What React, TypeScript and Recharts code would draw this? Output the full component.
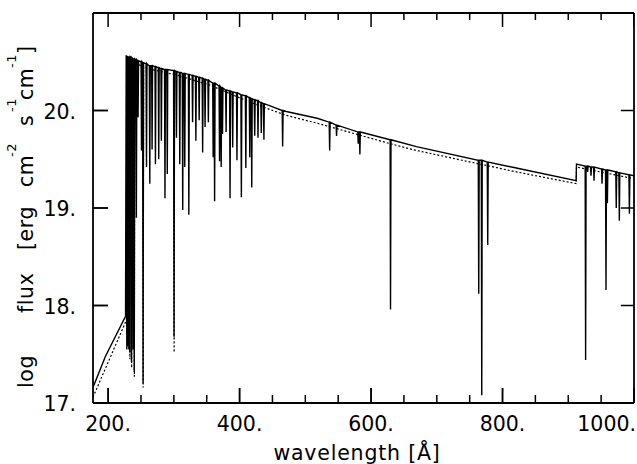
import { LineChart, Line, XAxis, YAxis } from "recharts";

const FONT = "'DejaVu Sans', sans-serif";

// axis ticks
const X_MAJOR = [200, 400, 600, 800, 1000];
const X_MINOR = [250, 300, 350, 450, 500, 550, 650, 700, 750, 850, 900, 950];
const X_LABELS: Record<number, string> = { 200: "200.", 400: "400.", 600: "600.", 800: "800.", 1000: "1000." };
const Y_TICKS = [17, 18, 19, 20, 21];
const Y_LABELS: Record<number, string> = { 17: "17.", 18: "18.", 19: "19.", 20: "20." };
const Y_TICKS_SIDE = [18, 19, 20];

const X_DOMAIN = [177, 1000];
const Y_DOMAIN = [17, 21];

// solid model: continuum knots [wavelength, log flux]
const solidContinuum: [number, number][] = [
  [177, 17.16], [196, 17.48], [226.5, 17.89], [227.5, 20.56], [260, 20.47], [311, 20.39],
  [355, 20.3], [380, 20.21], [400, 20.17], [430, 20.09], [471, 19.99], [518, 19.92],
  [629, 19.7], [669, 19.63], [766, 19.49], [821, 19.41], [912, 19.28], [912.5, 19.45],
  [1000, 19.33],
];

// solid model: absorption lines [centre, top, bottom]
const solidLines: [number, number, number][] = [
  [228.4, 20.56, 17.55], [230.0, 20.55, 17.58], [231.5, 20.55, 17.55], [233.0, 20.55, 17.52],
  [235.6, 20.54, 17.42], [238.0, 20.53, 17.55], [239.8, 20.53, 17.32], [243.0, 20.52, 18.9],
  [245.6, 20.51, 19.93], [250.8, 20.5, 19.59], [253.2, 20.49, 17.2], [258.4, 20.48, 19.42],
  [263.4, 20.46, 19.25], [266.9, 20.46, 19.6], [272.0, 20.45, 19.45], [277.0, 20.44, 19.5],
  [281.0, 20.43, 19.69], [286.5, 20.42, 19.1], [290.0, 20.42, 19.35], [300.3, 20.41, 17.68],
  [304.0, 20.4, 19.72], [309.0, 20.39, 19.45], [313.5, 20.38, 18.98], [316.6, 20.38, 19.42],
  [322.8, 20.37, 18.93], [328.5, 20.36, 19.88], [333.5, 20.35, 19.69], [338.5, 20.34, 19.9],
  [343.8, 20.33, 19.57], [347.5, 20.32, 19.83], [352.5, 20.31, 19.88], [359.8, 20.28, 19.52],
  [362.0, 20.28, 19.07], [369.5, 20.25, 19.48], [372.0, 20.24, 19.42], [374.0, 20.23, 19.76],
  [379.5, 20.21, 19.78], [385.5, 20.2, 19.1], [389.5, 20.19, 19.62], [396.0, 20.18, 19.49],
  [402.7, 20.16, 19.11], [409.5, 20.15, 19.41], [415.5, 20.13, 19.52], [418.5, 20.12, 19.21],
  [423.0, 20.11, 19.74], [428.0, 20.1, 19.72], [433.0, 20.08, 19.77], [437.0, 20.07, 19.7],
  [465.5, 20.0, 19.63], [537.0, 19.88, 19.59], [547.5, 19.85, 19.74], [580.5, 19.78, 19.66],
  [583.0, 19.78, 19.55], [629.6, 19.7, 17.96], [763.8, 19.49, 18.12], [768.4, 19.49, 17.08],
  [777.5, 19.47, 18.62], [926.4, 19.43, 17.44], [929.5, 19.43, 19.37], [934.6, 19.42, 19.33],
  [939.2, 19.42, 19.28], [951.4, 19.4, 19.25], [957.4, 19.39, 18.16], [959.5, 19.39, 19.05],
  [973.0, 19.37, 19.0], [977.7, 19.36, 18.87], [993.0, 19.34, 18.94],
];

// dotted model
const dottedContinuum: [number, number][] = [
  [177, 17.06], [227.8, 17.85], [228.1, 20.52], [260, 20.43], [311, 20.35], [355, 20.26],
  [400, 20.13], [430, 20.05], [471, 19.95], [518, 19.87], [629, 19.66], [669, 19.59],
  [766, 19.45], [821, 19.37], [912, 19.25], [912.5, 19.42], [1000, 19.3],
];
const dottedLines: [number, number, number][] = [
  [233.2, 20.51, 17.45], [235.8, 20.5, 17.36], [239.9, 20.49, 17.27], [253.3, 20.45, 17.16],
  [300.4, 20.37, 17.52],
];

const HALF = 0.7;

function buildSeries(cont: [number, number][], lines: [number, number, number][]) {
  const pts = cont.map(([x, y]) => ({ x, y }));
  lines.forEach(([c, top, bottom]) => {
    pts.push({ x: c - HALF, y: top }, { x: c, y: bottom }, { x: c + HALF, y: top });
  });
  return pts.sort((a, b) => a.x - b.x);
}

const solidData = buildSeries(solidContinuum, solidLines);
const dottedData = buildSeries(dottedContinuum, dottedLines);

// one small series per tick mark (lengths in data units), so each is a plain two-point line
type Pt = { x: number; y: number };
function buildTickMarks(): Pt[][] {
  const [x0, x1] = X_DOMAIN;
  const [y0, y1] = Y_DOMAIN;
  const marks: Pt[][] = [];
  [...X_MAJOR, ...X_MINOR].forEach((v) => {
    const major = X_MAJOR.includes(v);
    marks.push([{ x: v, y: y0 }, { x: v + 0.01, y: y0 + (major ? 0.154 : 0.082) }]);
    marks.push([{ x: v, y: y1 }, { x: v + 0.01, y: y1 - (major ? 0.144 : 0.072) }]);
  });
  Y_TICKS_SIDE.forEach((v) => {
    marks.push([{ x: x0, y: v }, { x: x0 + 23, y: v + 0.0001 }]);
    marks.push([{ x: x1 - 20, y: v }, { x: x1, y: v + 0.0001 }]);
  });
  return marks;
}
const tickMarks = buildTickMarks();

const renderBottomLabel = (props: any) => {
  const { x, y, payload } = props;
  const v = payload.value;
  const last = v === 1000;
  return (
    <text key={`b-${v}`} x={last ? x + 2 : x} y={y + 15 + 28} textAnchor={last ? "end" : "middle"}
      fontFamily={FONT} fontSize={20.5} fill="#000">
      {X_LABELS[v]}
    </text>
  );
};

const renderLeftLabel = (props: any) => {
  const { x, y, payload } = props;
  const v = payload.value;
  return (
    <text key={`l-${v}`} x={x - 15 - 17} y={y + 8} textAnchor="end" fontFamily={FONT} fontSize={20.5} fill="#000">
      {Y_LABELS[v] ?? ""}
    </text>
  );
};

function XTitle() {
  return (
    <text x={357} y={460} textAnchor="middle" fontFamily={FONT} fontSize={20.5} letterSpacing={0.8} fill="#000">
      wavelength [Å]
    </text>
  );
}

function YTitle() {
  return (
    <text transform="translate(33,0) rotate(-90)" fontFamily={FONT} fontSize={20.5} letterSpacing={0.6} fill="#000">
      <tspan x={-388} y={0}>log</tspan>
      <tspan x={-313} y={0}>flux</tspan>
      <tspan x={-250} y={0}>[erg</tspan>
      <tspan x={-187} y={0}>cm</tspan>
      <tspan x={-157} y={-17} fontSize={13}>-2</tspan>
      <tspan x={-126} y={0}>s</tspan>
      <tspan x={-112} y={-17} fontSize={13}>-1</tspan>
      <tspan x={-100} y={0}>cm</tspan>
      <tspan x={-68} y={-17} fontSize={13}>-1</tspan>
      <tspan x={-54} y={0}>]</tspan>
    </text>
  );
}

export default function App() {
  const frame = { stroke: "#000", strokeWidth: 1.8 };
  const tl = { stroke: "#000", strokeWidth: 1.5 };
  return (
    <div style={{ position: "absolute", left: 0, top: 0, width: 637, height: 464, background: "#fff" }}>
      <LineChart width={637} height={464} margin={{ top: 0, right: 0, bottom: 0, left: 0 }}>
        <XAxis xAxisId="b" dataKey="x" type="number" domain={X_DOMAIN} allowDataOverflow
          ticks={X_MAJOR} interval={0} tickSize={-15} tickMargin={0} height={61}
          axisLine={frame} tickLine={tl} tick={renderBottomLabel}
          label={{ content: () => <XTitle /> }} />
        <XAxis xAxisId="t" orientation="top" dataKey="x" type="number" domain={X_DOMAIN} allowDataOverflow
          ticks={X_MAJOR} interval={0} tickSize={0} height={13}
          axisLine={frame} tickLine={false} tick={false} />
        <YAxis yAxisId="l" type="number" domain={Y_DOMAIN} allowDataOverflow ticks={Y_TICKS} interval={0}
          tickSize={-15} tickMargin={0} width={93} axisLine={frame} tickLine={tl} tick={renderLeftLabel}
          label={{ content: () => <YTitle /> }} />
        <YAxis yAxisId="r" orientation="right" type="number" domain={Y_DOMAIN} allowDataOverflow
          ticks={Y_TICKS_SIDE} interval={0} tickSize={0} width={3}
          axisLine={frame} tickLine={false} tick={false} />

        {/* invisible series so the frame axes are bound to data */}
        <Line xAxisId="t" yAxisId="r" data={solidData} dataKey="y" stroke="transparent" strokeWidth={0}
          dot={false} activeDot={false} isAnimationActive={false} />

        {tickMarks.map((m, i) => (
          <Line key={`tick-${i}`} xAxisId="b" yAxisId="l" data={m} dataKey="y" type="linear" stroke="#000"
            strokeWidth={1.5} dot={false} activeDot={false} isAnimationActive={false} />
        ))}
        <Line xAxisId="b" yAxisId="l" data={dottedData} dataKey="y" type="linear" stroke="#000"
          strokeWidth={1.2} strokeDasharray="2 2" dot={false} activeDot={false} isAnimationActive={false} />
        <Line xAxisId="b" yAxisId="l" data={solidData} dataKey="y" type="linear" stroke="#000"
          strokeWidth={1.4} dot={false} activeDot={false} isAnimationActive={false} />
      </LineChart>
    </div>
  );
}
